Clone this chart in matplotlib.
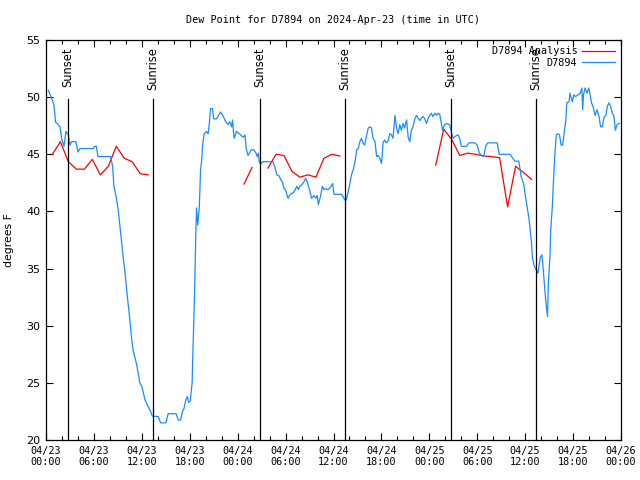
import matplotlib
matplotlib.use("Agg")
import matplotlib.pyplot as plt
import numpy as np

# ---- data (hours since 2024-04-23 00:00 UTC) ----
obs_hours = [0.29, 0.71, 1.0, 1.2, 1.4, 1.75, 2.0, 2.25, 2.5, 2.8, 3.0, 3.2, 3.75, 4.0, 4.25,
             5.9, 6.1, 6.3, 6.5, 8.1, 8.35, 8.5, 8.75, 9.05, 9.35, 9.6, 9.9, 10.15, 10.5, 10.7,
             10.9, 11.1, 11.35, 11.55, 11.75, 12.0, 12.2, 12.4, 12.6, 12.8, 13.1, 13.3, 14.05,
             14.35, 15.0, 15.3, 16.3, 16.55, 16.85, 17.1, 17.3, 17.5, 17.7, 17.85, 18.05, 18.3,
             18.35, 18.45, 18.6, 18.75, 18.85, 19.0, 19.2, 19.35, 19.5, 19.6, 19.8, 20.1, 20.3,
             20.45, 20.6, 20.85, 21.0, 21.35, 21.55, 21.85, 22.2, 22.5, 22.8, 23.0, 23.25, 23.35,
             23.55, 23.85, 24.2, 24.5, 24.7, 24.9, 25.1, 25.3, 25.7, 26.0, 26.3, 26.45, 26.6,
             26.7, 26.9, 27.1, 28.4, 28.7, 28.9, 29.2, 29.4, 29.6, 29.8, 30.0, 30.2, 30.3, 30.5,
             30.75, 30.95, 31.2, 31.4, 31.6, 31.8, 32.0, 32.3, 32.5, 32.7, 32.95, 33.1, 33.25,
             33.55, 33.8, 33.95, 34.1, 34.3, 34.4, 34.6, 34.8, 35.0, 35.3, 35.6, 35.9, 36.05,
             37.0, 37.2, 37.4, 37.6, 37.8, 38.05, 38.25, 38.45, 38.7, 38.9, 39.1, 39.3, 39.5,
             39.7, 39.9, 40.1, 40.35, 40.55, 40.75, 40.95, 41.2, 41.4, 41.6, 41.8, 42.0, 42.1,
             42.2, 42.4, 42.6, 42.8, 43.05, 43.25, 43.45, 43.7, 43.9, 44.1, 44.3, 44.5, 44.7,
             44.9, 45.15, 45.35, 45.55, 45.75, 45.95, 46.2, 46.4, 46.6, 46.8, 47.0, 47.2, 47.4,
             47.65, 47.85, 48.05, 48.25, 48.45, 48.7, 48.9, 49.1, 49.3, 49.5, 49.65, 49.9, 50.2,
             50.55, 50.8, 51.0, 51.3, 51.6, 51.8, 52.0, 52.65, 52.95, 53.7, 54.0, 54.25, 54.55,
             54.8, 55.1, 55.35, 56.5, 56.75, 58.1, 58.4, 58.7, 59.2, 59.5, 59.8, 60.1, 60.25,
             60.5, 60.8, 60.9, 61.1, 61.3, 61.6, 61.9, 62.1, 62.3, 62.5, 62.65, 62.8, 62.9, 63.1,
             63.2, 63.4, 63.5, 63.7, 63.9, 64.1, 64.3, 64.5, 64.7, 64.9, 65.1, 65.2, 65.5, 65.6,
             65.9, 66.1, 66.3, 66.6, 66.9, 67.1, 67.2, 67.3, 67.5, 67.75, 67.95, 68.1, 68.3,
             68.5, 68.75, 69.0, 69.25, 69.45, 69.65, 69.9, 70.1, 70.3, 70.5, 70.7, 70.9, 71.1,
             71.3, 71.5, 71.8]
obs_values = [50.6, 49.9, 49.3, 47.8, 47.7, 47.4, 46.25, 45.7, 47.0, 46.7, 45.8, 46.1, 46.1, 45.2, 45.5,
              45.5, 45.7, 45.7, 44.8, 44.8, 43.9, 42.2, 41.4, 40.1, 38.1, 36.4, 34.6, 32.8, 30.5, 29.0,
              27.9, 27.3, 26.6, 25.8, 25.0, 24.7, 24.1, 23.5, 23.2, 22.9, 22.5, 22.1, 22.05,
              21.5, 21.5, 22.3, 22.3, 21.75, 21.75, 22.5, 22.8, 23.5, 23.8, 23.3, 23.4, 25.0,
              26.7, 29.0, 32.8, 37.8, 40.3, 38.8, 40.4, 43.6, 44.5, 45.7, 46.8, 47.0, 46.8,
              47.7, 49.0, 49.0, 48.1, 48.1, 48.35, 48.7, 48.3, 47.85, 47.6, 47.85, 47.4, 48.0,
              46.4, 47.0, 46.8, 46.6, 46.5, 46.7, 45.4, 44.9, 45.4, 45.4, 45.1, 44.8, 45.1,
              44.35, 44.15, 44.35, 44.35, 43.8, 43.2, 43.1, 42.75, 42.6, 42.0, 41.9, 41.4, 41.15, 41.4,
              41.6, 41.6, 41.9, 42.2, 41.9, 42.2, 42.3, 42.6, 42.9, 42.6, 42.0, 41.6, 41.15,
              41.4, 41.15, 41.4, 40.6, 41.15, 41.4, 42.2, 41.9, 42.0, 41.9, 42.1, 42.45, 41.5,
              41.5, 41.3, 41.0, 41.0, 41.6, 42.45, 43.2, 43.6, 44.35, 45.4, 45.5, 46.1, 46.4,
              46.0, 45.8, 46.5, 47.3, 47.4, 47.3, 46.4, 46.1, 44.8, 44.9, 44.65, 44.2, 44.9,
              46.0, 46.25, 46.0, 46.1, 46.8, 46.7, 46.4, 48.4, 47.3, 46.8, 47.6, 47.1, 47.7,
              47.3, 48.0, 46.5, 46.1, 47.1, 47.4, 48.15, 48.4, 48.15, 47.95, 48.15, 48.3, 48.15,
              47.7, 48.15, 48.4, 48.6, 48.3, 48.6, 48.4, 48.6, 48.5, 47.7, 47.1, 47.6, 47.7,
              47.6, 46.8, 46.4, 46.6, 46.7, 46.4, 45.7, 45.7, 46.0, 46.0, 45.8, 45.1, 44.9,
              44.8, 45.8, 46.0, 46.0, 45.0, 45.0, 44.7, 44.4, 44.4, 43.05, 42.45, 41.0, 40.4,
              39.25, 37.2, 36.0, 35.3, 35.0, 34.6, 36.0, 36.2, 34.6, 32.8, 31.7, 30.8, 33.7, 36.0,
              38.4, 40.4, 42.0, 44.8, 46.7, 46.8, 46.7, 45.8, 45.8, 47.0, 48.0, 49.5, 49.6, 50.35,
              49.6, 50.2, 50.05, 50.2, 50.35, 50.8, 48.9, 50.2, 50.8, 50.35, 50.8, 50.35, 49.5,
              49.2, 48.4, 48.9, 48.3, 47.4, 47.4, 48.3, 48.4, 49.2, 49.5, 49.2, 48.6, 48.4,
              47.1, 47.6, 47.7]

ana_hours = [0.8, 1.8, 2.8, 3.8, 4.8, 5.8, 6.8, 7.8, 8.8, 9.8, 10.8, 11.8, 12.8,
             24.8, 25.8, 26.8, 27.8, 28.8, 29.8, 30.8, 31.8, 32.8, 33.8, 34.8, 35.8, 36.8,
             48.8, 49.8, 50.8, 51.8, 52.8, 53.8, 54.8, 55.8, 56.8, 57.8, 58.8, 59.8, 60.8]
ana_values = [45.0, 46.1, 44.35, 43.7, 43.7, 44.55, 43.2, 43.95, 45.7, 44.65, 44.35, 43.3, 43.2,
              42.4, 43.85, np.nan, 43.8, 45.0, 44.9, 43.5, 43.0, 43.2, 43.0, 44.65, 45.0, 44.85,
              44.05, 47.2, 46.3, 44.9, 45.1, 45.0, 44.85, 44.8, 44.7, 40.4, 43.95, 43.4, 42.8]
# breaks between analysis segments
ana_segments = [(0, 13), (13, 26), (26, 39)]

sun_hours = [2.75, 13.4, 26.78, 37.38, 50.72, 61.33]
sun_labels = ["Sunset", "Sunrise", "Sunset", "Sunrise", "Sunset", "Sunrise"]

xtick_hours = list(range(0, 73, 6))
xtick_labels = ["04/23\n00:00", "04/23\n06:00", "04/23\n12:00", "04/23\n18:00",
                "04/24\n00:00", "04/24\n06:00", "04/24\n12:00", "04/24\n18:00",
                "04/25\n00:00", "04/25\n06:00", "04/25\n12:00", "04/25\n18:00",
                "04/26\n00:00"]
yticks = [20, 25, 30, 35, 40, 45, 50, 55]

BLUE = "#1a8cff"
RED = "#ff0000"
MONO = "DejaVu Sans Mono"

fig = plt.figure(figsize=(6.4, 4.8), dpi=100)
ax = fig.add_axes([46/640, 40/480, 575/640, 400/480])

for s, e in ana_segments:
    ax.plot(ana_hours[s:e], ana_values[s:e], color=RED, lw=0.9, label="D7894 Analysis" if s == 0 else None)
ax.plot(obs_hours, obs_values, color=BLUE, lw=0.9, label="D7894")

for h, lab in zip(sun_hours, sun_labels):
    ax.plot([h, h], [20, 49.85], color="black", lw=0.9)
    ax.text(h, 54.35, lab, rotation=90, ha="center", va="top", fontsize=8.3,
            family="DejaVu Sans")

ax.set_xlim(0, 72)
ax.set_ylim(20, 55)
ax.set_xticks(xtick_hours)
ax.set_xticklabels(xtick_labels, family=MONO, fontsize=7.3)
ax.set_xticks(list(range(0, 73, 2)), minor=True)
ax.set_yticks(yticks)
ax.set_yticklabels([str(v) for v in yticks], fontsize=8)
ax.tick_params(axis="both", which="both", direction="in", top=True, right=True, width=0.8)
ax.tick_params(axis="both", which="major", length=5, pad=4)
ax.tick_params(axis="x", which="minor", length=3)
for sp in ax.spines.values():
    sp.set_linewidth(0.9)

ax.set_ylabel("degrees F", fontsize=7.8, labelpad=9)
ax.set_title("Dew Point for D7894 on 2024-Apr-23 (time in UTC)", family=MONO, fontsize=7.3, pad=12)

leg = ax.legend(loc="upper right", frameon=False, prop={"family": MONO, "size": 7.3},
                markerfirst=False, handlelength=3.2, borderaxespad=0.2, labelspacing=0.15,
                handletextpad=0.5)

fig.savefig("out.png", dpi=100)
